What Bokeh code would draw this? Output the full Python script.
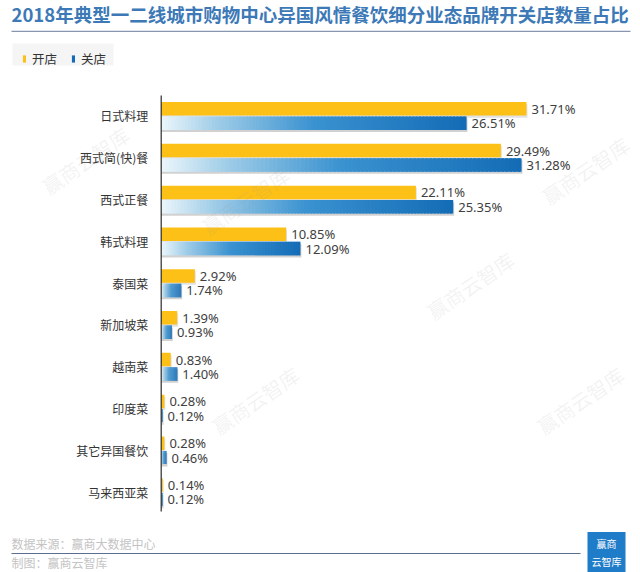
import numpy as np
from bokeh.plotting import figure
from bokeh.models import (FactorRange, Range1d, Label, BoxAnnotation, Legend,
                          LegendItem, ColumnDataSource)
from bokeh.transform import dodge
from bokeh.core.properties import value
from bokeh.embed import file_html
from bokeh.resources import INLINE

# ---------------- data ----------------
categories = ["日式料理", "西式简(快)餐", "西式正餐", "韩式料理", "泰国菜",
              "新加坡菜", "越南菜", "印度菜", "其它异国餐饮", "马来西亚菜"]
open_share = [31.71, 29.49, 22.11, 10.85, 2.92, 1.39, 0.83, 0.28, 0.28, 0.14]
close_share = [26.51, 31.28, 25.35, 12.09, 1.74, 0.93, 1.40, 0.12, 0.46, 0.12]
series_names = ["开店", "关店"]
title_text = "2018年典型一二线城市购物中心异国风情餐饮细分业态品牌开关店数量占比"
source_text = "数据来源：赢商大数据中心"
maker_text = "制图：赢商云智库"
watermark_text = "赢商云智库"

# ---------------- styles / geometry ----------------
CJK = "Noto Sans CJK SC"
YELLOW = "#FCC016"
BLUE_DARK = "#146CB6"
W, H = 640, 572
ROW_PX = 41.8                      # pixel height of one category row
PAD = (H / ROW_PX - len(categories)) / 2
SHIFT = -0.421                     # rows sit a bit below the canvas centre
BAR_H = 0.323
OFF = 0.172
AX_X = 160.7                       # pixel position of the zero line
PX_PER_PCT = 11.52

p = figure(width=W, height=H,
           y_range=FactorRange(factors=categories[::-1], range_padding=PAD,
                               range_padding_units="absolute"),
           x_range=Range1d(-AX_X / PX_PER_PCT, (W - AX_X) / PX_PER_PCT),
           output_backend="svg", toolbar_location=None,
           x_axis_location=None, y_axis_location=None, min_border=0)
p.outline_line_color = None
p.xgrid.visible = False
p.ygrid.visible = False
p.background_fill_color = "white"
p.border_fill_color = "white"


def scr(**kw):
    """screen-unit helper (origin bottom-left of canvas)"""
    d = {}
    for k, v in kw.items():
        d[k] = v
        d[k + "_units"] = "screen"
    return d


ycat = dodge("y", SHIFT, range=p.y_range)
yopen = dodge("y", SHIFT + OFF, range=p.y_range)
yclose = dodge("y", SHIFT - OFF, range=p.y_range)

# ---------------- watermarks ----------------
for (wx, wy) in [(85, 160), (245, 200), (585, 170), (470, 285), (255, 400), (580, 400)]:
    p.add_layout(Label(x=wx, y=H - wy, x_units="screen", y_units="screen",
                       text=watermark_text, text_font=CJK, text_font_size="20px",
                       text_color="#9a9a9a", text_alpha=0.13, angle=0.6,
                       text_align="center", text_baseline="middle"))

# ---------------- category labels + zero line ----------------
cat_src = ColumnDataSource(dict(y=categories, x=[0] * len(categories)))
p.text(x="x", y=ycat, text="y", source=cat_src, x_offset=-13,
       text_align="right", text_baseline="middle",
       text_font=value(CJK), text_font_size="12px", text_color="#333333")
p.add_layout(BoxAnnotation(fill_color="#2b2b2b", fill_alpha=1, line_color=None,
                           **scr(left=AX_X - 0.6, right=AX_X + 0.6,
                                 bottom=H - 511, top=H - 95)))

# ---------------- shadows ----------------
shadow_src = ColumnDataSource(dict(
    y=categories,
    o=[v + 0.08 for v in open_share],
    c=[v + 0.08 for v in close_share],
))
p.hbar(y=dodge("y", SHIFT + OFF - 0.05, range=p.y_range), left=0, right="o",
       height=BAR_H, source=shadow_src, fill_color="#8a8a8a", fill_alpha=0.25,
       line_color=None)
p.hbar(y=dodge("y", SHIFT - OFF - 0.05, range=p.y_range), left=0, right="c",
       height=BAR_H, source=shadow_src, fill_color="#7a7a7a", fill_alpha=0.35,
       line_color=None)

# ---------------- open bars ----------------
open_src = ColumnDataSource(dict(y=categories, v=open_share,
                                 lab=[f"{v:.2f}%" for v in open_share]))
r_open = p.hbar(y=yopen, left=0, right="v", height=BAR_H,
                source=open_src, fill_color=YELLOW, line_color=None)

# ---------------- close bars (gradient slices) ----------------
stops_t = [0.0, 0.18, 0.5, 1.0]
stops_c = np.array([[236, 246, 251], [160, 205, 232], [58, 146, 208], [20, 108, 182]])


def blue_at(t):
    rgb = [np.interp(t, stops_t, stops_c[:, k]) for k in range(3)]
    return "#%02x%02x%02x" % tuple(int(round(c)) for c in rgb)


N = 90
gy, gl, gr, gc = [], [], [], []
for c, v in zip(categories, close_share):
    for i in range(N):
        gy.append(c)
        gl.append(v * i / N)
        gr.append(min(v, v * (i + 1.6) / N))
        gc.append(blue_at((i + 0.5) / N))
grad_src = ColumnDataSource(dict(y=gy, left=gl, right=gr, color=gc))
r_close = p.hbar(y=yclose, left="left", right="right", height=BAR_H,
                 source=grad_src, fill_color="color", line_color=None)

# ---------------- value labels ----------------
close_src = ColumnDataSource(dict(y=categories, v=close_share,
                                  lab=[f"{v:.2f}%" for v in close_share]))
for src, yy in ((open_src, yopen), (close_src, yclose)):
    p.text(x="v", y=yy, text="lab", source=src,
           x_offset=5, text_baseline="middle", text_align="left",
           text_font=value("Noto Sans"), text_font_size="13px", text_color="#404040")

# ---------------- header ----------------
p.add_layout(Label(text=title_text, text_font=CJK, text_font_size="18.5px",
                   text_font_style="bold", text_color="#3C79B6",
                   text_baseline="middle", text_align="left",
                   **scr(x=11, y=H - 13)))
p.add_layout(BoxAnnotation(fill_color="#8797b0", fill_alpha=1, line_color=None,
                           **scr(left=11, right=630, bottom=H - 31.5, top=H - 30.2)))
p.add_layout(BoxAnnotation(fill_color="#f5f5f5", fill_alpha=1, line_color=None,
                           **scr(left=12, right=113, bottom=H - 65, top=H - 43)))
legend = Legend(items=[LegendItem(label=series_names[0], renderers=[r_open]),
                       LegendItem(label=series_names[1], renderers=[r_close], index=N - 1)],
                orientation="horizontal", location=(22, H - 68),
                glyph_width=4, glyph_height=9, label_standoff=6, spacing=14,
                padding=4, label_height=14,
                label_text_font=CJK, label_text_font_size="12.5px",
                label_text_color="#333333",
                background_fill_alpha=0, border_line_color=None)
p.add_layout(legend)

# ---------------- footer ----------------
p.add_layout(Label(text=source_text, text_font=CJK, text_font_size="12px",
                   text_color="#c4c4c4", text_baseline="middle", **scr(x=11, y=H - 543)))
p.add_layout(Label(text=maker_text, text_font=CJK, text_font_size="12px",
                   text_color="#c4c4c4", text_baseline="middle", **scr(x=11, y=H - 562)))
p.add_layout(BoxAnnotation(fill_color="#5b6e8e", fill_alpha=1, line_color=None,
                           **scr(left=11, right=580, bottom=H - 553.6, top=H - 552.4)))
p.add_layout(Label(text="赢商\n云智库", text_font=CJK, text_font_size="10px",
                   text_color="white", text_align="center", text_baseline="middle",
                   background_fill_color="#1F7CC8", background_fill_alpha=1,
                   padding=4, **scr(x=606, y=H - 552)))

open("out.html", "w").write(file_html(p, INLINE))
